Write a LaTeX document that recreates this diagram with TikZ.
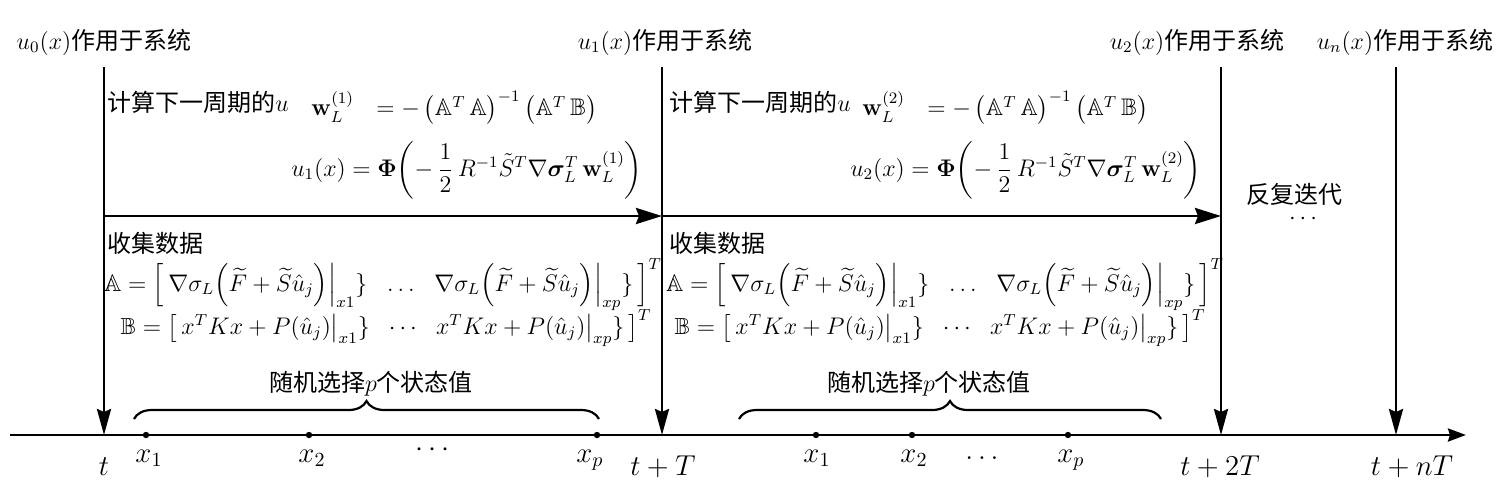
\documentclass[tikz,border=0pt]{standalone}
\usepackage{amsmath,amssymb}
\usepackage{bm}
\usepackage[no-math]{fontspec}
\newfontfamily\cjk{Noto Sans CJK SC}
\usetikzlibrary{arrows.meta,decorations.pathreplacing}
\begin{document}
\begin{tikzpicture}[x=0.5pt,y=-0.5pt,
  line/.style={line width=1.4pt},
  varrow/.style={line, -{Stealth[length=13pt,width=7pt,inset=1.5pt]}},
  harrow/.style={line, -{Stealth[length=13pt,width=8pt,inset=1.5pt]}},
  axisline/.style={line, -{Stealth[length=9pt,width=6.5pt,inset=1pt]}},
  lab/.style={inner sep=0pt, font=\fontsize{12}{14}\selectfont},
  tlab/.style={inner sep=0pt, font=\fontsize{14.5}{16}\selectfont},
  xlab/.style={inner sep=0pt, font=\fontsize{14.5}{16}\selectfont},
  eq/.style={inner sep=0pt, font=\fontsize{12}{14}\selectfont},
  eqb/.style={inner sep=0pt, font=\fontsize{11.6}{14}\selectfont},
  pt/.style={circle, fill=black, inner sep=0pt, minimum size=3.2pt},
  bracebar/.style={line width=1.1pt, decorate, decoration={brace, amplitude=9pt}}]
\useasboundingbox (0,0) rectangle (1505,494);

% axis
\coordinate (a0) at (10,435);
\coordinate (a1) at (1466,435);
\draw[axisline] (a0) -- (a1);

% vertical arrows
\coordinate (t0) at (104,435);
\coordinate (t1) at (662,435);
\coordinate (t2) at (1221,435);
\coordinate (tn) at (1396,435);
\coordinate (v0) at (104,67);
\coordinate (v1) at (662,67);
\coordinate (v2) at (1221,67);
\coordinate (vn) at (1396,67);
\draw[varrow] (v0) -- (t0);
\draw[varrow] (v1) -- (t1);
\draw[varrow] (v2) -- (t2);
\draw[varrow] (vn) -- (tn);

% horizontal arrows
\coordinate (h0) at (104,216);
\coordinate (h1) at (662,216);
\coordinate (h2) at (1221,216);
\draw[harrow] (h0) -- (h1);
\draw[harrow] (h1) -- (h2);

% top labels
\node[lab] (L0) at (104,42) {$u_0(x)$\cjk 作用于系统};
\node[lab] (L1) at (665,42) {$u_1(x)$\cjk 作用于系统};
\node[lab] (L2) at (1197,42) {$u_2(x)$\cjk 作用于系统};
\node[lab] (Ln) at (1405,42) {$u_n(x)$\cjk 作用于系统};

% period 1
\node[lab, anchor=west] (c1) at (107,102) {\cjk 计算下一周期的$u$};
\node[eq, anchor=west] (w1) at (311,108) {$\mathbf{w}_L^{(1)}\ \ =-\,\big(\mathbb{A}^T\,\mathbb{A}\big)^{-1}\,\big(\mathbb{A}^T\,\mathbb{B}\big)$};
\node[eq, anchor=east] (u1) at (643,170) {$u_1(x)=\mathbf{\Phi}\biggl(-\,\dfrac{1}{2}\,R^{-1}\tilde{S}^T\nabla\bm{\sigma}_L^T\,\mathbf{w}_L^{(1)}\biggr)$};
\node[lab, anchor=west] (d1) at (107,243) {\cjk 收集数据};
\node[eq] (A1) at (383,285) {$\mathbb{A}=\Big[\,\nabla\sigma_L\Big(\widetilde{F}+\widetilde{S}\hat{u}_j\Big)\Big|_{x1}\}\ \ \ldots\ \ \nabla\sigma_L\Big(\widetilde{F}+\widetilde{S}\hat{u}_j\Big)\Big|_{xp}\}\,\Big]^T$};
\node[eqb] (B1) at (386,328) {$\mathbb{B}=\big[\,x^TKx+P(\hat{u}_j)\big|_{x1}\}\ \ \cdots\ \ x^TKx+P(\hat{u}_j)\big|_{xp}\}\,\big]^T$};

% period 2
\node[lab, anchor=west] (c2) at (669,102) {\cjk 计算下一周期的$u$};
\node[eq, anchor=west] (w2) at (862,108) {$\mathbf{w}_L^{(2)}\ \ =-\,\big(\mathbb{A}^T\,\mathbb{A}\big)^{-1}\,\big(\mathbb{A}^T\,\mathbb{B}\big)$};
\node[eq, anchor=east] (u2) at (1202,170) {$u_2(x)=\mathbf{\Phi}\biggl(-\,\dfrac{1}{2}\,R^{-1}\tilde{S}^T\nabla\bm{\sigma}_L^T\,\mathbf{w}_L^{(2)}\biggr)$};
\node[lab, anchor=west] (d2) at (669,243) {\cjk 收集数据};
\node[eq] (A2) at (945,285) {$\mathbb{A}=\Big[\,\nabla\sigma_L\Big(\widetilde{F}+\widetilde{S}\hat{u}_j\Big)\Big|_{x1}\}\ \ \ldots\ \ \nabla\sigma_L\Big(\widetilde{F}+\widetilde{S}\hat{u}_j\Big)\Big|_{xp}\}\,\Big]^T$};
\node[eqb] (B2) at (940,328) {$\mathbb{B}=\big[\,x^TKx+P(\hat{u}_j)\big|_{x1}\}\ \ \cdots\ \ x^TKx+P(\hat{u}_j)\big|_{xp}\}\,\big]^T$};

% repeat
\node[lab] (r) at (1294,194) {\cjk 反复迭代};
\node[lab] (rd) at (1305,219) {$\cdots$};

% braces
\coordinate (b1l) at (134,419);
\coordinate (b1r) at (599,419);
\draw[bracebar] (b1l) -- (b1r);
\node[lab] (s1) at (371,384) {\cjk 随机选择$p$个状态值};
\coordinate (b2l) at (739,419);
\coordinate (b2r) at (1161,419);
\draw[bracebar] (b2l) -- (b2r);
\node[lab] (s2) at (929,384) {\cjk 随机选择$p$个状态值};

% sample points
\node[pt] (p11) at (146,435) {};
\node[pt] (p12) at (309,435) {};
\node[pt] (p1p) at (597,435) {};
\node[pt] (p21) at (816,435) {};
\node[pt] (p22) at (912,435) {};
\node[pt] (p2p) at (1068,435) {};

\node[xlab] (x11) at (149,458) {$x_1$};
\node[xlab] (x12) at (312,458) {$x_2$};
\node[xlab] (x1d) at (435,450) {$\cdots$};
\node[xlab] (x1p) at (590,460) {$x_p$};
\node[xlab] (x21) at (817,458) {$x_1$};
\node[xlab] (x22) at (914,458) {$x_2$};
\node[xlab] (x2d) at (982,458) {$\ldots$};
\node[xlab] (x2p) at (1071,460) {$x_p$};

% time labels
\node[tlab] (T0) at (104,467) {$t$};
\node[tlab] (T1) at (663,467) {$t+T$};
\node[tlab] (T2) at (1220,467) {$t+2T$};
\node[tlab] (Tn) at (1412,467) {$t+nT$};
\end{tikzpicture}
\end{document}
